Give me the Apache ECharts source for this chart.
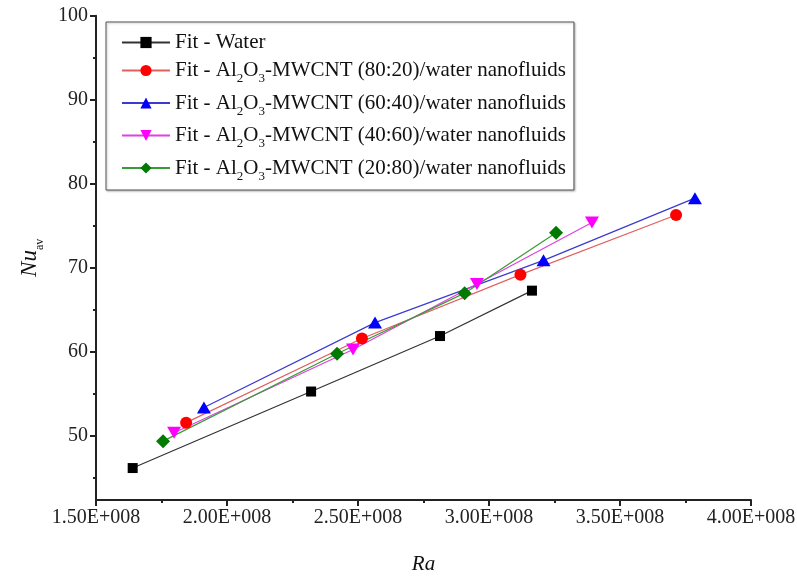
<!DOCTYPE html>
<html>
<head>
<meta charset="utf-8">
<script src="https://cdn.jsdelivr.net/npm/echarts@6/dist/echarts.min.js"></script>
<style>html,body{margin:0;padding:0;background:#fff}#c{width:797px;height:576px}</style>
</head>
<body>
<div id="c"></div>
<script>
// Data (Ra, Nu_av)
const seriesNames = [
  'Fit - Water',
  'Fit - Al2O3-MWCNT (80:20)/water nanofluids',
  'Fit - Al2O3-MWCNT (60:40)/water nanofluids',
  'Fit - Al2O3-MWCNT (40:60)/water nanofluids',
  'Fit - Al2O3-MWCNT (20:80)/water nanofluids'
];
const raWater = [1.640e8, 2.321e8, 2.813e8, 3.164e8];
const nuWater = [46.2, 55.3, 61.9, 67.3];
const ra8020 = [1.844e8, 2.515e8, 3.120e8, 3.714e8];
const nu8020 = [51.6, 61.6, 69.2, 76.3];
const ra6040 = [1.912e8, 2.565e8, 3.208e8, 3.786e8];
const nu6040 = [53.4, 63.5, 70.9, 78.3];
const ra4060 = [1.798e8, 2.481e8, 2.954e8, 3.393e8];
const nu4060 = [50.4, 60.3, 68.1, 75.4];
const ra2080 = [1.756e8, 2.420e8, 2.907e8, 3.256e8];
const nu2080 = [49.4, 59.8, 67.0, 74.2];
const yMajorTicks = [50, 60, 70, 80, 90, 100];
const yMinorTicks = [45, 55, 65, 75, 85, 95];

function pairs(xs, ys) { return xs.map((x, i) => [x, ys[i]]); }

const font = 'Liberation Serif, Times New Roman, serif';
const styles = [
  {line: '#333333', mark: '#000000', symbol: 'rect', size: 10, rot: 0},
  {line: '#e06060', mark: '#ff0000', symbol: 'circle', size: 12, rot: 0},
  {line: '#3b3bd0', mark: '#0000ff', symbol: 'triangle', size: [14, 12], rot: 0},
  {line: '#e040e0', mark: '#ff00ff', symbol: 'triangle', size: [14, 12], rot: 180},
  {line: '#3a9a3a', mark: '#007a00', symbol: 'diamond', size: 14, rot: 0}
];
const dataSets = [pairs(raWater, nuWater), pairs(ra8020, nu8020), pairs(ra6040, nu6040), pairs(ra4060, nu4060), pairs(ra2080, nu2080)];

const chart = echarts.init(document.getElementById('c'), null, {renderer: 'canvas'});
chart.setOption({
  animation: false,
  backgroundColor: '#fff',
  grid: {left: 96, right: 46, top: 15.7, bottom: 76, containLabel: false, outerBoundsMode: 'none'},
  legend: {
    orient: 'vertical',
    left: 106, top: 22,
    padding: [10, 8, 7, 15],
    itemGap: 7,
    itemWidth: 48, itemHeight: 14,
    borderColor: '#555', borderWidth: 1,
    backgroundColor: '#fff',
    shadowColor: 'rgba(0,0,0,0.25)', shadowBlur: 2, shadowOffsetX: 1, shadowOffsetY: 1,
    textStyle: {
      fontFamily: font, fontSize: 21, color: '#111',
      rich: {
        n: {fontFamily: font, fontSize: 21, color: '#111', lineHeight: 22, verticalAlign: 'middle'},
        s: {fontFamily: font, fontSize: 13, color: '#111', lineHeight: 30, verticalAlign: 'bottom'}
      }
    },
    formatter: function (name) {
      const parts = name.split(/(Al2O3)/);
      return parts.map(p => p === 'Al2O3' ? '{n|Al}{s|2}{n|O}{s|3}' : (p ? '{n|' + p + '}' : '')).join('');
    },
    data: seriesNames
  },
  xAxis: {
    type: 'value',
    min: 1.5e8, max: 4.0e8, interval: 0.5e8,
    name: 'Ra', nameLocation: 'middle', nameGap: 54,
    nameTextStyle: {fontFamily: font, fontStyle: 'italic', fontSize: 21, color: '#111'},
    axisLine: {show: true, onZero: false, lineStyle: {color: '#222', width: 2}},
    axisTick: {show: true, inside: false, length: 6, lineStyle: {color: '#222', width: 2}},
    minorTick: {show: true, splitNumber: 2, length: 3, lineStyle: {color: '#222', width: 2}},
    axisLabel: {fontFamily: font, fontSize: 20, color: '#222', margin: 8,
      formatter: v => (v / 1e8).toFixed(2) + 'E+008'},
    splitLine: {show: false}
  },
  yAxis: [{
    type: 'value',
    min: 42.4, max: 100,
    name: '{i|Nu}{s|av}', nameLocation: 'middle', nameGap: 50, nameRotate: 90,
    nameTextStyle: {
      fontFamily: font, fontSize: 21, color: '#111',
      rich: {
        i: {fontFamily: font, fontStyle: 'italic', fontSize: 23, color: '#111', lineHeight: 24, verticalAlign: 'middle'},
        s: {fontFamily: font, fontSize: 12, color: '#111', lineHeight: 32, verticalAlign: 'bottom'}
      }
    },
    axisLine: {show: true, onZero: false, lineStyle: {color: '#222', width: 2}},
    axisTick: {show: true, inside: false, length: 6, customValues: yMajorTicks, lineStyle: {color: '#222', width: 2}},
    axisLabel: {fontFamily: font, fontSize: 20, color: '#222', margin: 8, customValues: yMajorTicks},
    splitLine: {show: false}
  }, {
    type: 'value',
    min: 42.4, max: 100, position: 'left',
    axisLine: {show: false},
    axisTick: {show: true, inside: false, length: 3, customValues: yMinorTicks, lineStyle: {color: '#222', width: 2}},
    axisLabel: {show: false},
    splitLine: {show: false}
  }],
  series: dataSets.map((d, i) => ({
    name: seriesNames[i],
    type: 'line',
    yAxisIndex: 0,
    data: d,
    symbol: styles[i].symbol,
    symbolSize: styles[i].size,
    symbolRotate: styles[i].rot,
    showAllSymbol: true,
    lineStyle: {color: styles[i].line, width: 1.2},
    itemStyle: {color: styles[i].mark, borderWidth: 0},
    emphasis: {disabled: true}
  }))
});
</script>
</body>
</html>
